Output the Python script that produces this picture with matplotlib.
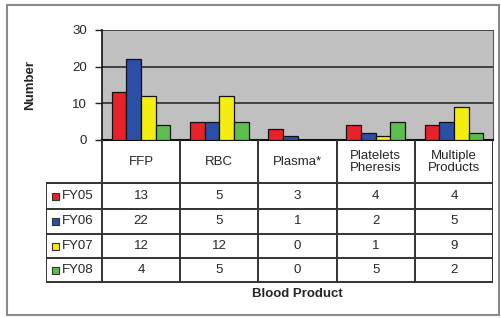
import matplotlib
matplotlib.use("Agg")
from matplotlib import pyplot as plt
from matplotlib.patches import Rectangle

plt.rcParams['font.family'] = ['Liberation Sans', 'DejaVu Sans']

# data
products = ['FFP', 'RBC', 'Plasma*', 'Platelets\nPheresis', 'Multiple\nProducts']
years = ['FY05', 'FY06', 'FY07', 'FY08']
fy05 = [13, 5, 3, 4, 4]
fy06 = [22, 5, 1, 2, 5]
fy07 = [12, 12, 0, 1, 9]
fy08 = [4, 5, 0, 5, 2]
series = [fy05, fy06, fy07, fy08]
colors = ['#e8212b', '#2b4ea6', '#f4ee10', '#5dbd4d']
yticks = [0, 10, 20, 30]

W, H = 501, 318
fs = 9.5
tc = '#262626'
fig = plt.figure(figsize=(W / 100, H / 100), dpi=100)
fig.patch.set_facecolor('white')

# outer frame
fig.patches.append(Rectangle((7 / W, 3 / H), 492 / W, 310 / H, transform=fig.transFigure,
                             fill=False, edgecolor='#8a8a8a', linewidth=1.5))

# bar area
ax = fig.add_axes([102 / W, (H - 140) / H, 391 / W, 110 / H])
ax.set_facecolor('#c0c0c0')
n = len(products)
bw = 0.187
for i, vals in enumerate(series):
    xs = [k + (i - 1.5) * bw for k in range(n)]
    ax.bar(xs, vals, width=bw, color=colors[i], edgecolor='#111111', linewidth=0.9, zorder=3)
ax.set_xlim(-0.5, n - 0.5)
ax.set_ylim(0, 30)
ax.set_yticks(yticks)
ax.set_yticklabels([str(t) for t in yticks], fontsize=fs, color=tc)
ax.tick_params(axis='y', direction='out', length=5, width=1, pad=6, color='#222222')
ax.set_xticks([])
ax.grid(axis='y', color='#202020', linewidth=1.1, zorder=1)
ax.spines['top'].set_visible(False)
ax.spines['right'].set_color('#555555')
ax.spines['left'].set_color('#111111')
ax.spines['bottom'].set_color('#111111')
ax.spines['left'].set_linewidth(1.2)
ax.spines['bottom'].set_linewidth(1.5)
ax.set_ylabel('Number', fontsize=fs, fontweight='bold', color=tc, labelpad=26)

# data table below
lab_w = (102 - 46) / 78.2
tx = fig.add_axes([46 / W, (H - 283) / H, 447 / W, 143 / H])
tx.set_xlim(-0.5 - lab_w, n - 0.5)
tx.set_ylim(283, 140)
tx.axis('off')
lc = '#333333'
lw = 1.4
rows_y = [183, 209, 234, 258, 282]
for k in range(n + 1):
    tx.plot([k - 0.5, k - 0.5], [140, rows_y[-1]], color=lc, linewidth=lw)
for y in rows_y:
    tx.plot([-0.5 - lab_w, n - 0.5], [y, y], color=lc, linewidth=lw)
tx.plot([-0.5 - lab_w, -0.5 - lab_w], [rows_y[0], rows_y[-1]], color=lc, linewidth=lw)
for k, p in enumerate(products):
    tx.text(k, 162, p, ha='center', va='center', fontsize=fs, color=tc, linespacing=1.05)
px = 1 / 78.2
for i, vals in enumerate(series):
    yc = (rows_y[i] + rows_y[i + 1]) / 2
    for k, v in enumerate(vals):
        tx.text(k, yc, str(v), ha='center', va='center', fontsize=fs, color=tc)
    tx.add_patch(Rectangle((-0.5 - lab_w + 6 * px, yc - 3.5), 7 * px, 7, facecolor=colors[i],
                           edgecolor='#333333', linewidth=0.8))
    tx.text(-0.5 - lab_w + 16 * px, yc, years[i], ha='left', va='center', fontsize=fs, color=tc)

fig.text(297 / W, 1 - 294 / H, 'Blood Product', ha='center', va='center', fontsize=fs,
         fontweight='bold', color=tc)

fig.savefig('out.png', dpi=100)
